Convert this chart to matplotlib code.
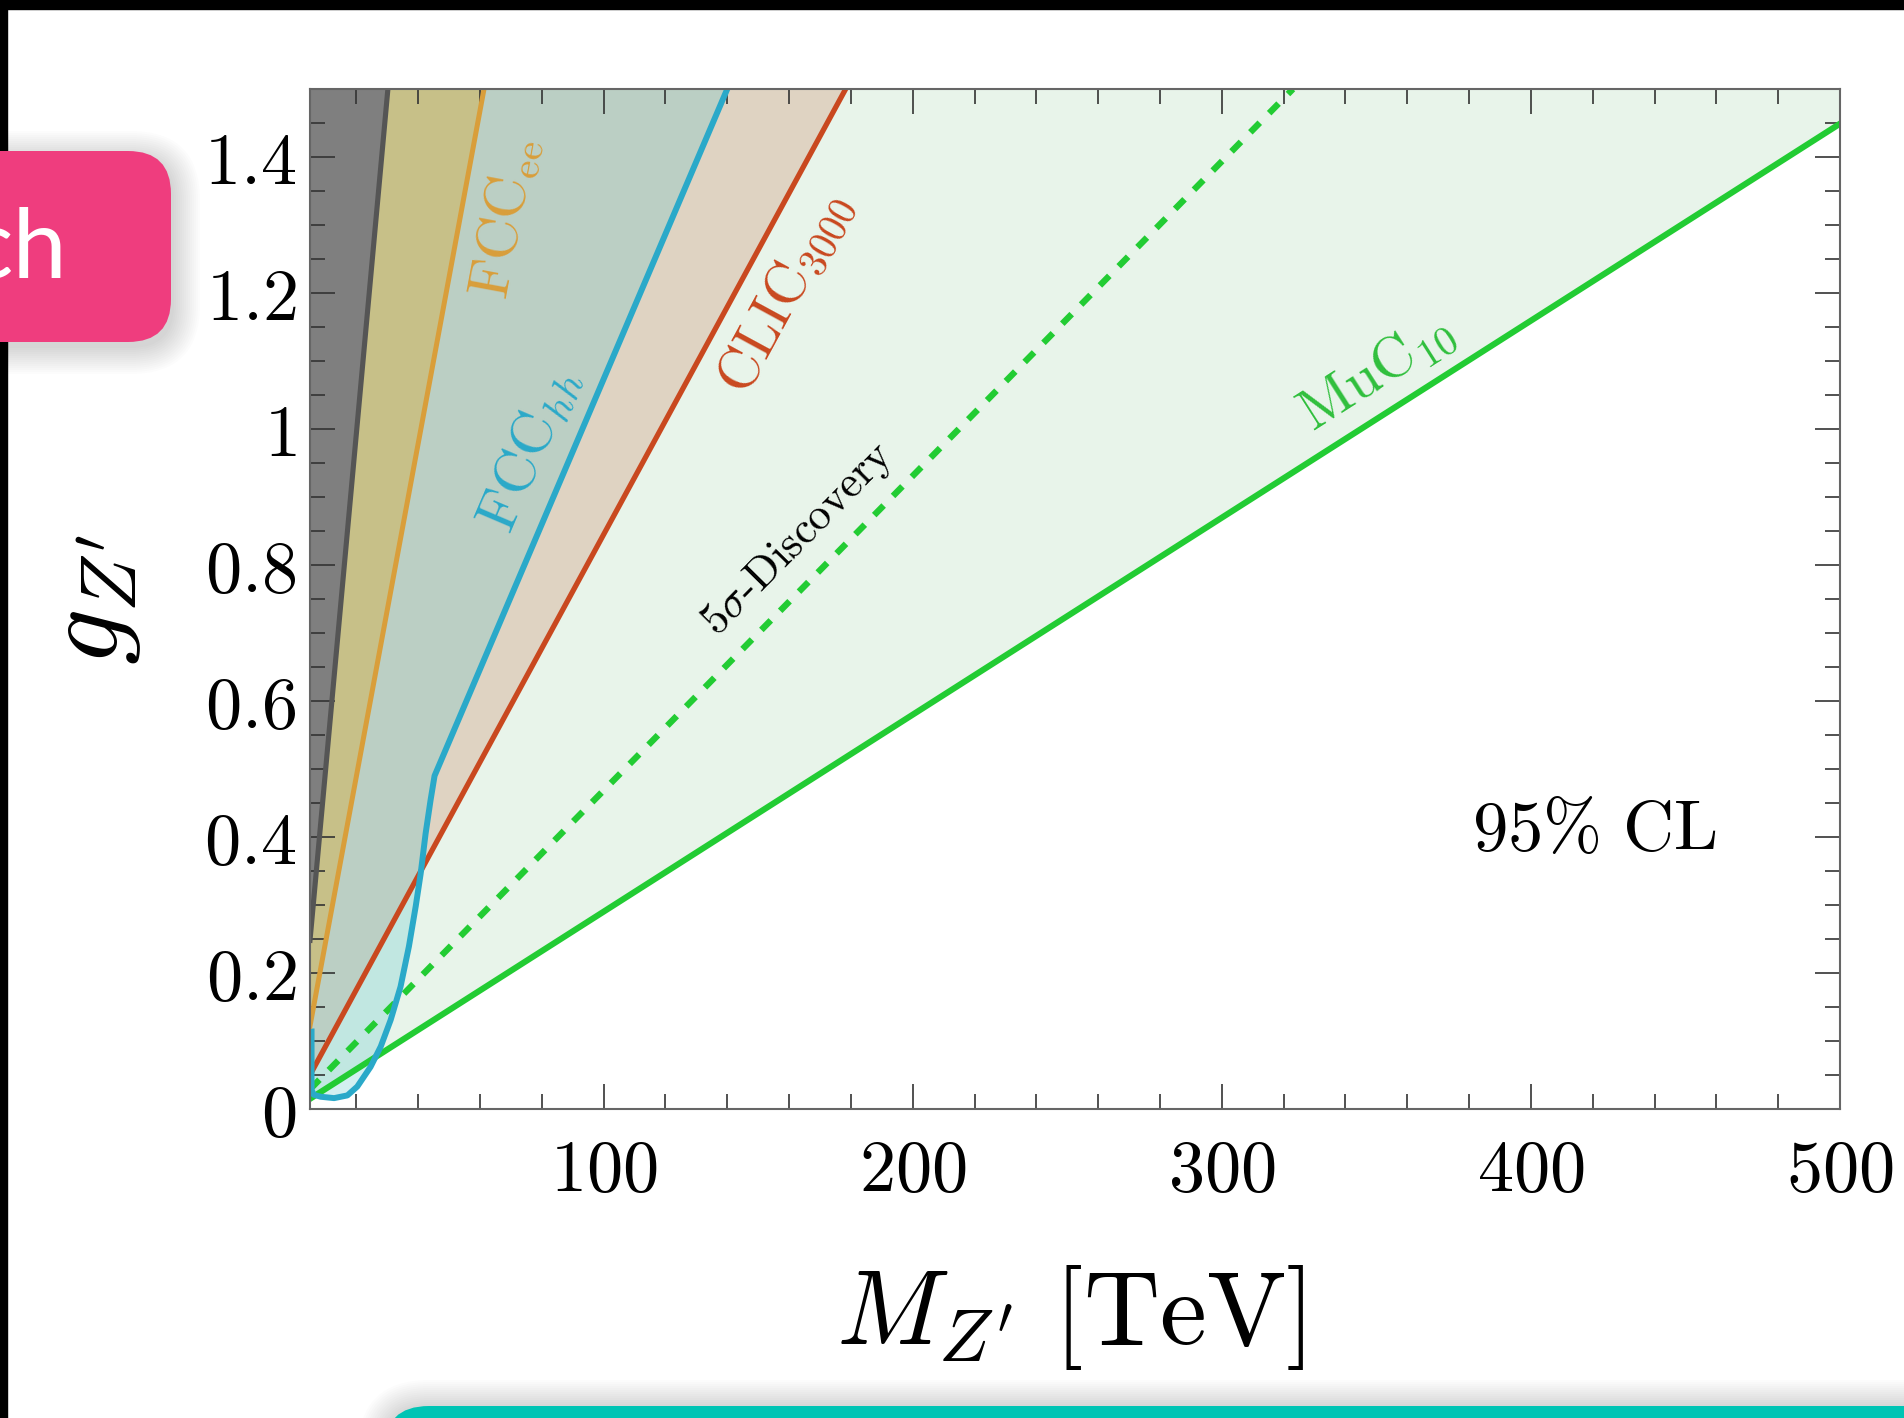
import numpy as np
import matplotlib.pyplot as plt
from matplotlib.patches import FancyBboxPatch, Rectangle

plt.rcParams["mathtext.fontset"] = "cm"

# exclusion boundaries: M_Z' [TeV] vs g_Z'
dark_m = [5, 30.2]
dark_g = [0.248, 1.5]
fccee_m = [5, 61.3]
fccee_g = [0.122, 1.5]
fcchh_m = [5.5, 5.5, 6.2, 8.5, 12.8, 17.1, 20.3, 24.6, 27.9, 31.1, 34.3,
           37.0, 39.2, 40.8, 42.4, 44.0, 45.3, 140]
fcchh_g = [0.114, 0.028, 0.021, 0.018, 0.016, 0.020, 0.033, 0.062, 0.092,
           0.131, 0.180, 0.239, 0.298, 0.346, 0.405, 0.454, 0.490, 1.5]
clic_m = [5, 178.3]
clic_g = [0.05, 1.5]
muc_m = [5, 500]
muc_g = [0.015, 1.449]
disc_m = [5, 323]
disc_g = [0.029, 1.5]

xticks = [100, 200, 300, 400, 500]
yticks = [0, 0.2, 0.4, 0.6, 0.8, 1, 1.2, 1.4]
ytick_labels = ["0", "0.2", "0.4", "0.6", "0.8", "1", "1.2", "1.4"]

W, H = 1904, 1418
fig = plt.figure(figsize=(W / 100, H / 100), dpi=100)
ax = fig.add_axes([310 / W, 1 - 1109 / H, 1530 / W, 1020 / H])
ax.set_xlim(5, 500)
ax.set_ylim(0, 1.5)
top = 1.5

# filled regions
ax.fill_between(muc_m, muc_g, top, color="#e8f4ea", lw=0)
ax.fill_between(clic_m, clic_g, top, color="#bb4f22", alpha=0.2, lw=0)
ax.fill(fcchh_m + [0, 0], fcchh_g + [top, fcchh_g[0]], color="#50c4ca", alpha=0.25, lw=0)
ax.fill_between(fccee_m, fccee_g, top, color="#daaa2e", alpha=0.4, lw=0)
ax.fill_between(dark_m, dark_g, top, color="#7f7f7f", lw=0)

# boundaries
ax.plot(muc_m, muc_g, color="#22cc33", lw=4.4)
ax.plot(disc_m, disc_g, color="#22cc33", lw=4.6, ls=(0, (2.1, 2.1)))
ax.plot(clic_m, clic_g, color="#c9481f", lw=3.8)
ax.plot(fcchh_m, fcchh_g, color="#2aa9c9", lw=4.3, solid_joinstyle="round")
ax.plot(fccee_m, fccee_g, color="#d99e3a", lw=3.6)
ax.plot(dark_m, dark_g, color="#555555", lw=3.7)

ax.set_xticks(xticks, [f"${t}$" for t in xticks])
ax.set_xticks(np.arange(20, 500, 20), minor=True)
ax.set_yticks(yticks, [f"${t}$" for t in ytick_labels])
ax.set_yticks(np.arange(0, 1.5, 0.05), minor=True)
ax.tick_params(which="both", direction="in", top=True, right=True, color="#333333", width=1.2)
ax.tick_params(which="major", length=18, labelsize=52)
ax.tick_params(which="minor", length=11)
ax.tick_params(axis="x", pad=20)
ax.tick_params(axis="y", pad=10)
for s in ax.spines.values():
    s.set_color("#666666")
    s.set_linewidth(1.5)

ax.set_xlabel(r"$M_{Z^{\prime}}\ [\mathrm{TeV}]$", fontsize=76)
ax.xaxis.set_label_coords(0.497, -0.151)
ax.set_ylabel(r"$g_{Z^{\prime}}$", fontsize=80)
ax.yaxis.set_label_coords(-0.109, 0.5)


def angle(m, g):
    p = ax.transData.transform(np.column_stack([m[-2:], g[-2:]]))
    return np.degrees(np.arctan2(p[1, 1] - p[0, 1], p[1, 0] - p[0, 0]))


kw = dict(ha="center", va="center", rotation_mode="anchor")
ax.text(68.0, 1.31, r"$\mathrm{FCC}_{\mathrm{ee}}$", color="#d99e3a", fontsize=42,
        rotation=angle(fccee_m, fccee_g), **kw)
ax.text(75.8, 0.97, r"$\mathrm{FCC}_{hh}$", color="#2aa9c9", fontsize=42,
        rotation=angle(fcchh_m, fcchh_g), **kw)
ax.text(158.5, 1.20, r"$\mathrm{CLIC}_{3000}$", color="#c9481f", fontsize=41,
        rotation=angle(clic_m, clic_g), **kw)
ax.text(163, 0.838, r"$5\sigma\mathrm{\text{-}Discovery}$", color="black", fontsize=32,
        rotation=angle(disc_m, disc_g), **kw)
ax.text(350, 1.084, r"$\mathrm{MuC}_{10}$", color="#2fbf3c", fontsize=42,
        rotation=angle(muc_m, muc_g), **kw)
ax.text(420.5, 0.41, r"$95\%\ \mathrm{CL}$", color="black", fontsize=51, **kw)

# screenshot decorations, in pixel coordinates
ov = fig.add_axes([0, 0, 1, 1])
ov.set_xlim(0, W)
ov.set_ylim(H, 0)
ov.patch.set_alpha(0)
ov.axis("off")
ov.add_patch(Rectangle((0, 0), W, 9, color="black"))
ov.add_patch(Rectangle((0, 0), 7, H, color="black"))

for i in range(14):
    d = 2 * i
    ov.add_patch(FancyBboxPatch((-60 - d + 3, 151 - d + 6), 231 + 2 * d, 191 + 2 * d,
                                boxstyle=f"round,pad=0,rounding_size={43 + d}",
                                color="black", alpha=0.012, lw=0))
    ov.add_patch(FancyBboxPatch((384 - d, 1406 - d), 1600 + 2 * d, 100 + 2 * d,
                                boxstyle=f"round,pad=0,rounding_size={45 + d}",
                                color="black", alpha=0.012, lw=0))
ov.add_patch(FancyBboxPatch((-60, 151), 231, 191, boxstyle="round,pad=0,rounding_size=43",
                            color="#ef3d7e", lw=0))
ov.text(68, 278, "ch", ha="right", va="baseline", fontsize=70, color="white",
        family="Lato")
ov.add_patch(FancyBboxPatch((384, 1406), 1600, 100, boxstyle="round,pad=0,rounding_size=45",
                            color="#00c4b4", lw=0))

fig.savefig("out.png", dpi=100)
